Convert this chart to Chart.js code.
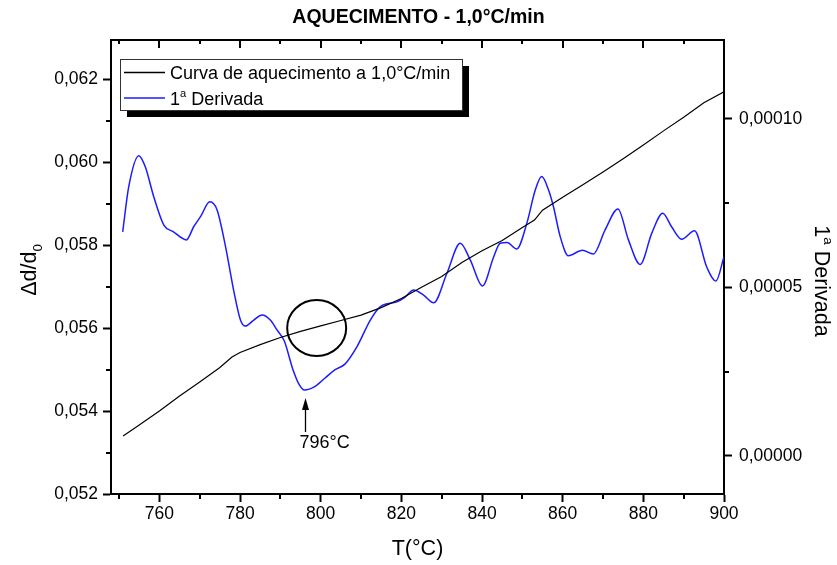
<!DOCTYPE html>
<html>
<head>
<meta charset="utf-8">
<script src="https://cdn.jsdelivr.net/npm/chart.js@4.4.1/dist/chart.umd.min.js"></script>
<style>
  html, body { margin: 0; padding: 0; background: #fff; }
  canvas { display: block; }
</style>
</head>
<body>
<canvas id="chart" width="837" height="565"></canvas>
<script>
// Heating curve Δd/d0 against temperature (°C)
const curveT = [751, 755, 760, 765, 770, 775, 778, 780, 785, 790, 795, 800, 805, 810, 815, 820,
  825, 830, 835, 840, 845, 850, 853, 855, 860, 865, 870, 875, 880, 885, 890, 895, 900];
const curveVals = [0.05340, 0.05366, 0.05400, 0.05436, 0.05470, 0.05505, 0.05530, 0.05541, 0.05560,
  0.05577, 0.05592, 0.05605, 0.05618, 0.05631, 0.05649, 0.05671, 0.05698, 0.05724, 0.05758, 0.05786,
  0.05811, 0.05842, 0.05860, 0.05884, 0.05915, 0.05945, 0.05976, 0.06008, 0.06041, 0.06075, 0.06108,
  0.06143, 0.06169];

// First derivative of the heating curve
const derivT = [750.9, 752.4, 754.9, 756.5, 758.6, 761.1, 763.5, 766.7, 768.5, 770.2, 772.5, 774.3,
  776.4, 778.4, 780.1, 781.3, 783.4, 785.5, 787.5, 789.2, 791.0, 793.0, 794.5, 796.0, 798.5, 801.0,
  803.5, 806.0, 809.0, 812.3, 814.8, 818.9, 821.0, 823.0, 825.5, 828.0, 831.3, 834.6, 837.1, 840.1,
  842.9, 844.5, 846.2, 848.6, 851.1, 853.2, 854.8, 856.5, 857.7, 859.4, 861.4, 864.9, 867.6, 870.5,
  873.7, 876.3, 879.2, 882.1, 884.8, 887.0, 889.5, 892.7, 895.7, 898.0, 900.0];
const derivVals = [6.65e-5, 7.99e-5, 8.91e-5, 8.58e-5, 7.69e-5, 6.85e-5, 6.65e-5, 6.41e-5, 6.80e-5,
  7.10e-5, 7.54e-5, 7.30e-5, 6.21e-5, 4.92e-5, 4.03e-5, 3.85e-5, 4.03e-5, 4.18e-5, 4.03e-5, 3.73e-5,
  3.40e-5, 2.60e-5, 2.15e-5, 1.95e-5, 2.05e-5, 2.30e-5, 2.55e-5, 2.72e-5, 3.24e-5, 4.03e-5, 4.43e-5,
  4.57e-5, 4.72e-5, 4.92e-5, 4.77e-5, 4.54e-5, 5.42e-5, 6.31e-5, 5.81e-5, 5.04e-5, 5.91e-5, 6.31e-5,
  6.33e-5, 6.14e-5, 6.90e-5, 7.89e-5, 8.29e-5, 7.89e-5, 7.40e-5, 6.50e-5, 5.94e-5, 6.10e-5, 5.99e-5,
  6.70e-5, 7.33e-5, 6.41e-5, 5.68e-5, 6.61e-5, 7.20e-5, 6.80e-5, 6.43e-5, 6.68e-5, 5.61e-5, 5.19e-5,
  5.91e-5];

// Axis ticks
const xTicks = [760, 780, 800, 820, 840, 860, 880, 900];
const xMinorTicks = [750, 770, 790, 810, 830, 850, 870, 890];
const leftTicks = [0.052, 0.054, 0.056, 0.058, 0.060, 0.062];
const leftMinorTicks = [0.053, 0.055, 0.057, 0.059, 0.061];
const rightTicks = [0, 0.00005, 0.0001];
const rightMinorTicks = [0.000025, 0.000075];

// Marked minimum of the derivative
const minT = 796;
const minDeriv = 1.95e-5;
// Highlighted region on the heating curve
const ringT = 799;
const ringVal = 0.0560;

const FONT = "'Liberation Sans', Arial, Helvetica, sans-serif";

// Split a label into runs, turning ª into a raised "a" and ₀ into a lowered "0"
function richRuns(str, size) {
  const runs = [];
  let buf = '';
  const flush = () => { if (buf) { runs.push({ t: buf, s: size, dy: 0 }); buf = ''; } };
  for (const ch of str) {
    if (ch === 'ª') { flush(); runs.push({ t: 'a', s: size * 0.62, dy: -size * 0.40 }); }
    else if (ch === '₀') { flush(); runs.push({ t: '0', s: size * 0.62, dy: size * 0.28 }); }
    else buf += ch;
  }
  flush();
  return runs;
}
function richWidth(ctx, runs) {
  let w = 0;
  for (const r of runs) { ctx.font = `${r.s}px ${FONT}`; w += ctx.measureText(r.t).width; }
  return w;
}
// Draws runs with their baseline at y; x is the start (or the centre when centred)
function drawRich(ctx, runs, x, y, centred) {
  let cx = centred ? x - richWidth(ctx, runs) / 2 : x;
  ctx.textAlign = 'left';
  ctx.textBaseline = 'alphabetic';
  ctx.fillStyle = '#000';
  for (const r of runs) {
    ctx.font = `${r.s}px ${FONT}`;
    ctx.fillText(r.t, cx, y + r.dy);
    cx += ctx.measureText(r.t).width;
  }
}

function seg(ctx, x1, y1, x2, y2) {
  ctx.beginPath(); ctx.moveTo(x1, y1); ctx.lineTo(x2, y2); ctx.stroke();
}

const decorations = {
  id: 'decorations',
  afterDraw(chart) {
    const { ctx, chartArea: a, scales: { x, y, y1 } } = chart;
    ctx.save();
    ctx.strokeStyle = '#000';
    ctx.lineWidth = 2;

    // top frame line with inward ticks
    seg(ctx, a.left - 1, a.top, a.right + 1, a.top);
    xTicks.forEach(v => { const px = Math.round(x.getPixelForValue(v)); seg(ctx, px, a.top, px, a.top + 8); });
    xMinorTicks.forEach(v => { const px = Math.round(x.getPixelForValue(v)); seg(ctx, px, a.top, px, a.top + 4); });

    // minor ticks on the outer axes
    xMinorTicks.forEach(v => { const px = Math.round(x.getPixelForValue(v)); seg(ctx, px, a.bottom, px, a.bottom + 5); });
    leftMinorTicks.forEach(v => { const py = Math.round(y.getPixelForValue(v)); seg(ctx, a.left - 5, py, a.left, py); });
    rightMinorTicks.forEach(v => { const py = Math.round(y1.getPixelForValue(v)); seg(ctx, a.right, py, a.right + 5, py); });

    // axis titles with sub/superscripts
    const lt = richRuns('Δd/d₀', 21.5);
    ctx.save();
    ctx.translate(36, (a.top + a.bottom) / 2 + 3);
    ctx.rotate(-Math.PI / 2);
    drawRich(ctx, lt, 0, 0, true);
    ctx.restore();

    const rt = richRuns(chart.data.datasets[1].label, 21.5);
    ctx.save();
    ctx.translate(815, (a.top + a.bottom) / 2 + 14);
    ctx.rotate(Math.PI / 2);
    drawRich(ctx, rt, 0, 0, true);
    ctx.restore();

    // legend with drop shadow
    const lx = a.left + 9, ly = a.top + 19, lw = 342, lh = 51;
    ctx.fillStyle = '#000';
    ctx.fillRect(lx + 7, ly + 7, lw, lh);
    ctx.fillStyle = '#fff';
    ctx.fillRect(lx, ly, lw, lh);
    ctx.lineWidth = 1;
    ctx.strokeStyle = '#333';
    ctx.strokeRect(lx + 0.5, ly + 0.5, lw, lh);
    chart.data.datasets.forEach((ds, i) => {
      const rowY = ly + 13.5 + i * 25.5;
      ctx.strokeStyle = ds.borderColor;
      ctx.lineWidth = 1.5;
      seg(ctx, lx + 4, rowY, lx + 45, rowY);
      drawRich(ctx, richRuns(ds.label, 18), lx + 50, rowY + 6.5, false);
    });

    // ring around the curve and arrow at the derivative minimum
    ctx.strokeStyle = '#000';
    ctx.lineWidth = 2;
    ctx.beginPath();
    ctx.ellipse(x.getPixelForValue(ringT), y.getPixelForValue(ringVal), 29.5, 28, 0, 0, Math.PI * 2);
    ctx.stroke();

    const ax = Math.round(x.getPixelForValue(minT)) + 0.5;
    const tipY = y1.getPixelForValue(minDeriv) + 8;
    ctx.lineWidth = 1.3;
    seg(ctx, ax, tipY + 10, ax, tipY + 34);
    ctx.fillStyle = '#000';
    ctx.beginPath();
    ctx.moveTo(ax, tipY);
    ctx.lineTo(ax - 3.5, tipY + 12);
    ctx.lineTo(ax + 3.5, tipY + 12);
    ctx.closePath();
    ctx.fill();
    ctx.font = `18px ${FONT}`;
    ctx.textAlign = 'left';
    ctx.textBaseline = 'middle';
    ctx.fillText(`${minT}°C`, ax - 6, tipY + 45);

    ctx.restore();
  }
};

const tickFont = { family: FONT, size: 17.5 };

new Chart(document.getElementById('chart'), {
  type: 'line',
  data: {
    datasets: [
      {
        label: 'Curva de aquecimento a 1,0°C/min',
        data: curveT.map((t, i) => ({ x: t, y: curveVals[i] })),
        yAxisID: 'y',
        borderColor: '#000000',
        borderWidth: 1.2,
        pointRadius: 0,
        tension: 0
      },
      {
        label: '1ª Derivada',
        data: derivT.map((t, i) => ({ x: t, y: derivVals[i] })),
        yAxisID: 'y1',
        borderColor: '#1c1cff',
        borderWidth: 1.5,
        pointRadius: 0,
        cubicInterpolationMode: 'monotone'
      }
    ]
  },
  options: {
    responsive: false,
    devicePixelRatio: 1,
    animation: false,
    events: [],
    layout: { padding: 0 },
    plugins: {
      legend: { display: false },
      tooltip: { enabled: false },
      title: {
        display: true,
        text: 'AQUECIMENTO - 1,0°C/min',
        color: '#000',
        font: { family: FONT, size: 19.5, weight: 'bold' },
        padding: { top: 6, bottom: 10.6 }
      }
    },
    scales: {
      x: {
        type: 'linear',
        position: 'bottom',
        min: 748,
        max: 900,
        afterBuildTicks: s => { s.ticks = xTicks.map(v => ({ value: v })); },
        afterFit: s => { s.height = 71; },
        ticks: { color: '#000', font: tickFont, padding: 2, maxRotation: 0, autoSkip: false, callback: v => String(v) },
        grid: { display: true, drawOnChartArea: false, drawTicks: true, tickLength: 8, tickWidth: 2, tickColor: '#000' },
        border: { display: true, color: '#000', width: 2 },
        title: { display: true, text: 'T(°C)', color: '#000', font: { family: FONT, size: 21.5 }, padding: { top: 0, bottom: 3 } }
      },
      y: {
        type: 'linear',
        position: 'left',
        min: 0.052,
        max: 0.06294,
        afterBuildTicks: s => { s.ticks = leftTicks.map(v => ({ value: v })); },
        afterFit: s => { s.width = 111; },
        ticks: { color: '#000', font: tickFont, padding: 5, autoSkip: false, callback: v => v.toFixed(3).replace('.', ',') },
        grid: { display: true, drawOnChartArea: false, drawTicks: true, tickLength: 8, tickWidth: 2, tickColor: '#000' },
        border: { display: true, color: '#000', width: 2 }
      },
      y1: {
        type: 'linear',
        position: 'right',
        min: -0.00001137,
        max: 0.00012346,
        afterBuildTicks: s => { s.ticks = rightTicks.map(v => ({ value: v })); },
        afterFit: s => { s.width = 113; },
        ticks: { color: '#000', font: tickFont, padding: 7, autoSkip: false, callback: v => v.toFixed(5).replace('.', ',') },
        grid: { display: true, drawOnChartArea: false, drawTicks: true, tickLength: 8, tickWidth: 2, tickColor: '#000' },
        border: { display: true, color: '#000', width: 2 }
      }
    }
  },
  plugins: [decorations]
});
</script>
</body>
</html>
